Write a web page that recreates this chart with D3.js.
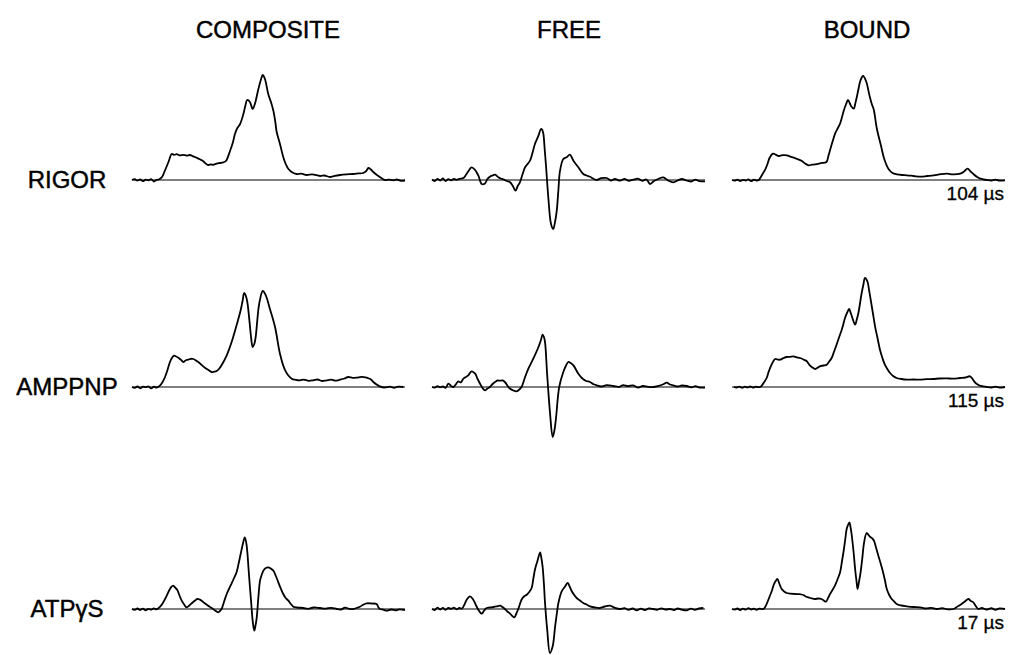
<!DOCTYPE html>
<html>
<head>
<meta charset="utf-8">
<script src="https://cdn.jsdelivr.net/npm/d3@7"></script>
<style>
  html, body { margin: 0; padding: 0; background: #fff; }
  svg { display: block; }
  text { font-family: "Liberation Sans", Arial, Helvetica, sans-serif; fill: #000; stroke: #000; stroke-width: 0.45px; }
</style>
</head>
<body>
<svg id="chart" width="1010" height="655"></svg>
<script>
// ---------------- DATA ----------------
const columns = ["COMPOSITE", "FREE", "BOUND"];
const rows = ["RIGOR", "AMPPNP", "ATPγS"];
const times = ["104 µs", "115 µs", "17 µs"];

// each trace: [field position (0-100), signal amplitude]
const compositeRigor = [[0,0],[1,0.8],[2,-0.6],[3,0.5],[4,-1.2],[5,0.3],[6,-0.4],[7,0.9],[8,-1.5],[9,0.2],[10,0.8],[11,3],[12,9],[13.5,19],[14.5,26],[15.5,25.2],[16.4,25.8],[17.5,24.6],[18.8,25.2],[20,24.4],[21.2,25],[22.4,23.6],[23.6,22.4],[25,20.5],[26,19],[27,16.5],[27.9,15],[29,15.6],[29.7,15.2],[31,16.4],[32.2,17],[33.4,17.6],[34.4,19],[35.9,29],[37,38],[37.7,46],[38.6,52],[39.6,56],[40.8,66],[41.5,74],[42.2,80],[43.2,78],[44.2,71],[45,76],[46.3,91],[47.3,101],[47.9,105],[48.7,101],[49.9,86],[50.9,78],[51.8,69],[52.5,58],[53,48],[54.2,36],[55.4,23],[56.3,16],[57.3,11],[58.8,7.5],[60.3,6],[62,6.4],[64,5],[66,5.6],[68.9,4],[70.5,4.5],[72.5,3],[74.3,4.2],[76.2,5],[78.5,5.6],[81.1,6],[83,6.6],[84.7,7],[85.8,9],[86.6,12],[87.5,10.5],[88.4,8],[89.5,5.5],[90.8,3],[91.8,1.2],[92.7,0],[94,0.4],[95.8,-0.3],[97,0.5],[98.5,-0.8],[100,-0.5]];

const freeRigor = [[0,0.5],[1,-1],[2,1.2],[3,-0.5],[4,1.5],[5,-1],[6,0.8],[7,-0.3],[8,1],[9,0.2],[10,1.2],[11.5,2],[12.4,5],[13.3,8.7],[14.5,12.7],[15.8,10],[17,4.3],[18.2,-4],[19.4,-3.5],[20.3,1],[21.2,3.3],[22.2,4.5],[23.1,5.3],[24.3,2.7],[25.2,1.5],[26.1,0.7],[27.4,-1],[28.6,-2.3],[29.6,-6],[30.6,-10.7],[31.4,-6],[32.2,-2.3],[33.2,6],[34.1,12.7],[35.9,19.3],[36.8,27],[37.7,36],[39,44.3],[39.9,51],[40.4,50],[40.8,46],[41.3,30],[41.8,12.7],[42.6,-17.3],[43.6,-44],[44.4,-49],[45,-43],[45.7,-30.7],[46.3,-10],[46.9,9.3],[48.1,21],[49.3,22.7],[50.5,25.3],[51.8,19.3],[53.6,12.7],[55.4,6],[56.6,4.5],[57.9,3.3],[59,1.5],[60.3,0],[62,1.8],[64,2],[65.5,-0.5],[67,1],[68.9,-0.7],[70.5,1.2],[72,-0.8],[73.7,0.3],[75.5,1.3],[77,-0.8],[78.5,0.5],[79.9,-4],[81.3,-1],[83,1.2],[84.7,2.7],[86.5,-0.5],[88.4,-2.3],[90,-0.5],[91.5,1],[93.3,-0.5],[95,-1.5],[96.5,0.3],[98,-1.2],[100,-1.3]];

const boundRigor = [[0,0],[1,-0.6],[2,0.4],[3,-1],[4,0.2],[5,-0.5],[6,0.6],[7,-1.2],[8,0.3],[9,-0.5],[9.8,0],[10.4,2.3],[11.2,6],[12.2,10.7],[13,16],[13.8,22.3],[15,26.3],[16,25.4],[17.1,24],[18.5,24.8],[20.1,24.7],[21.4,23.4],[22.6,22.3],[24,20.8],[25.6,19],[26.8,16.5],[28.1,14.7],[29.3,15.3],[30.5,15.7],[32.5,16.8],[34.6,18],[35.3,24],[36,30.7],[37,40],[37.9,47.3],[38.8,52],[39.7,57.3],[40.4,64],[41.1,70.7],[41.8,76],[42.5,80],[43.6,74],[44.6,71.3],[45.2,77],[45.8,84],[46.4,92],[47,99],[48,104],[49.1,99],[50.4,84],[51.2,76],[51.9,70.7],[53.1,50.7],[54.6,34],[55.8,20.7],[57.4,10.7],[58.8,7],[60.4,5.7],[62.3,5],[64.1,4.7],[66.5,4],[69,3.3],[71.5,4],[73.9,4.7],[76.5,5.8],[78.8,6.3],[81,5.6],[83.6,6.3],[85,8.5],[86.3,11.3],[87.4,8.5],[88.5,5.7],[89.8,3],[91,1.3],[92.2,0.5],[93.4,0],[95,-0.5],[96.5,0.4],[98,-0.6],[100,-0.3]];

const compositeAmppnp = [[0,0],[1,-0.8],[2,0.5],[3,-1.3],[4,0.4],[5,-0.2],[6,0.7],[7,-1.4],[8,0.3],[9,-0.5],[10.3,1.7],[11.2,5],[12.1,10],[13,17],[13.9,25],[14.6,29],[15.4,31.3],[16.2,30.5],[17,29.3],[18,27],[18.8,25],[19.7,26.8],[20.6,27.3],[21.5,28.2],[22.5,28],[23.4,26.6],[24.3,25],[25.5,22],[26.7,19.3],[28,17],[29.2,15],[30.1,15.3],[31,16],[32,18.5],[32.8,21.7],[34.7,31.7],[36.5,45],[38.3,61.7],[39.8,76.7],[40.5,86],[41.1,94],[42,88.3],[43,66.7],[43.6,50],[44.2,40],[44.8,43],[45.3,50],[46.6,83.3],[47.9,96],[49,91.7],[50.5,78.3],[52.4,60],[54.2,33.3],[56.1,16.7],[58.5,8.3],[60,7.2],[61.5,6.7],[63,7.4],[64.7,6.2],[66.4,6.7],[68,7.5],[69.6,6],[71.3,6.7],[73,7.3],[74.5,6.3],[76.2,7.3],[77.8,8.5],[79.2,10],[80.8,9.2],[82.3,9.3],[84,10.2],[86,9.3],[87.3,8],[88.4,5],[89.6,2.5],[90.8,0.7],[92.5,-0.5],[94.5,0.3],[96,-0.8],[97.5,0.4],[99.4,0]];

const freeAmppnp = [[0,0],[1,-0.6],[2,0.8],[3,-0.3],[4,0.5],[5,-0.8],[6,3.3],[7,1],[7.8,0],[8.7,2.5],[9.6,5.7],[10.5,4.5],[11.5,8.3],[12.4,10],[13.3,11.7],[14.5,15.7],[15.8,13.3],[16.7,8],[17.6,3.3],[18.5,-1],[19.4,-3.3],[20.3,-1.5],[21.2,0],[22.2,3],[23.1,5],[24,6.5],[24.9,6.3],[25.8,6.6],[26.7,5],[27.6,1.5],[28.6,-1.7],[29.8,-3.5],[31,-4.3],[32,-2.5],[32.8,0],[34.1,10],[35.3,18.3],[37.1,28.3],[39,40],[39.9,47],[40.5,52.3],[41,50],[41.4,45],[42.2,11.7],[43.2,-25],[44.2,-50],[44.8,-44],[45.4,-31.7],[46.6,0],[48.1,15],[49.1,21.5],[49.9,25],[50.8,24],[51.8,21.7],[53.6,13.3],[55.4,7.7],[56.5,6],[57.9,5],[59,3],[60.3,1.7],[62,0.5],[64,1.8],[66.4,1],[68.5,0.2],[70,1.8],[71.8,0.8],[73.7,1.7],[75.5,-0.5],[77.2,1],[79,0.3],[81.1,0],[83,1.2],[84.5,2.5],[86,4.3],[87.2,2.5],[88.4,1.7],[90,0.5],[91.5,1.5],[93.3,1],[95,-0.3],[96.5,0.8],[98,-0.5],[100,-0.7]];

const boundAmppnp = [[0.7,0],[1.7,-0.5],[2.7,0.4],[3.7,-0.8],[4.7,0.3],[5.7,-0.4],[6.7,0.5],[7.7,-0.6],[8.7,0.3],[9.5,-0.2],[10.3,0],[10.9,1.3],[11.8,5],[12.7,9],[13.4,15],[14.2,20.7],[15,25],[15.8,28],[16.7,27.5],[17.6,27.3],[18.8,28.8],[20,30],[21.2,30.2],[22.5,30.7],[23.7,29.6],[24.9,29],[26.2,27.5],[27.4,25.7],[28,23.5],[28.6,21.3],[29.5,19.5],[30.4,18],[31.3,19.2],[32.2,20.7],[33.5,21.5],[34.7,22.3],[35.6,25.5],[36.5,29],[37.4,35.5],[38.3,42.3],[39.2,49.5],[40.2,57.3],[40.8,63],[41.4,69],[42.2,74.5],[42.9,78],[43.5,74],[44.1,69],[45.1,62.3],[45.7,67.5],[46.3,74],[47.5,94],[48.1,102],[48.7,109],[49.6,105.7],[50.2,97],[50.8,87.3],[51.6,74],[52.4,60.7],[53.3,49],[54.2,37.3],[55.1,29],[56,22.3],[57,17.5],[57.9,14],[59,11],[60.3,9],[62,8],[64,7.3],[66.5,7.5],[68.9,7.3],[71.3,7.8],[73.7,8],[76,8.5],[78.6,8.7],[81,8.3],[83.5,9],[85.5,9.5],[87.2,10.7],[88.1,8],[89,4.7],[90,2.5],[90.8,1.3],[92,0.6],[93.3,0],[95,-0.5],[96.5,0.3],[98,-0.6],[100,0]];

const compositeAtpgs = [[0,0],[1,-0.8],[2,0.5],[3,-1],[4,0.3],[5,-1.3],[6,0.2],[7,-0.7],[8,0.6],[9,-0.3],[10.3,2.3],[11.2,5.5],[12.1,10],[13,15],[13.7,19],[14.4,22],[15.1,23.3],[15.8,21.5],[16.6,19],[17.4,13.5],[18.2,8.3],[19.1,4.5],[20,1.7],[21,3.5],[21.9,5.7],[23,8.2],[23.9,10],[24.7,9.6],[25.5,8.3],[26.5,6],[27.4,4.3],[28.3,2.5],[29.2,1],[30.4,-1.5],[31.6,-3.3],[32.2,-2],[32.8,0],[33.8,8],[34.7,15],[35.6,20.5],[36.5,25.7],[37.4,31],[38.3,36.7],[39.1,46],[39.8,55],[40.6,65],[41.3,71.7],[41.8,67],[42.2,58.3],[42.7,40],[43.2,21.7],[43.7,5],[44.2,-11.7],[44.8,-21.7],[45.2,-17],[45.7,-8.3],[46.3,12],[46.9,28.3],[47.5,34],[48.1,38.3],[49,41],[49.9,41.7],[50.8,40.5],[51.8,38.3],[52.7,33],[53.6,26.7],[54.5,20.5],[55.4,15],[56.3,11],[57.3,8.3],[58.2,5],[59.1,2.3],[60.5,1.5],[62.8,1],[64.5,0.2],[66.5,1.5],[68.9,1],[71,0.3],[73,1.2],[75,0],[76.5,-0.5],[78,1.3],[79.6,0.2],[81.1,0],[82.3,1],[83.5,2.3],[84.8,4.5],[86,5.7],[87.8,5.5],[89.6,5],[90.2,2],[90.8,0],[92,-0.6],[93.3,-1.7],[95,-0.5],[96.5,-1.3],[98,-0.3],[100,-1]];

const freeAtpgs = [[0,0],[1,-1],[2,1.3],[3,-0.5],[4,1.2],[5,-0.8],[6,1],[7,0.2],[8,1.4],[9,-0.3],[10,1],[11,0.5],[11.9,4.5],[12.7,9.3],[13.9,12.7],[15.1,9.3],[15.9,5],[16.6,1],[17.4,-2.5],[18.2,-4.7],[19.1,-1.5],[20,1],[21.2,1.5],[22.5,2],[23.7,2.6],[24.9,3.3],[25.8,2],[26.7,0],[27.6,-2.5],[28.6,-4.7],[29.4,-7],[30.2,-8.3],[30.9,-4.5],[31.6,0],[32.8,9.3],[33.7,12.5],[34.7,14.3],[35.6,17],[36.5,21],[37.1,30],[37.7,39.3],[38.6,47.7],[39.6,56.7],[40,52],[40.5,42.7],[41,25],[41.4,6],[42.2,-20.7],[43.2,-44],[44.2,-37.3],[45.1,-17.3],[45.7,-5],[46.3,6],[47.5,17.7],[48.6,22],[49.7,26],[50.5,22],[51.2,17.7],[52.1,14],[53,11],[54.2,8.5],[55.4,6],[56.6,4.5],[57.9,2.7],[59.7,1.5],[61.5,1],[63.3,2.5],[65.2,3.3],[67,1.2],[68.9,0],[70.5,0.8],[72,-0.8],[73.5,0.5],[75,-1.3],[76.5,0.3],[78,-1],[79.5,0.6],[81.1,0],[82.5,-0.8],[84,0.7],[85.5,-0.5],[87.2,0],[88.7,-1],[90,0.5],[91.5,-0.7],[93.3,-1.3],[94.8,0.3],[96.3,-0.8],[97.8,0.5],[99.4,1]];

const boundAtpgs = [[0,0],[1,-0.7],[2,0.5],[3,-1],[4,0.4],[5,-0.6],[6,0.8],[7,-0.5],[8,0.3],[9,-0.8],[10,0.3],[11.5,0],[12.1,1.7],[13,7],[13.9,13.3],[14.7,19],[15.4,25],[16,28],[16.6,30],[17.4,25],[18.2,20],[19.1,17.5],[20,16],[21.5,15.3],[23.1,15],[24.6,14.8],[26.1,14],[27,12.5],[28,11.7],[29.2,10.6],[30.4,10],[31.6,10.5],[32.8,10],[33.6,8.5],[34.4,7.3],[35.2,11],[35.9,15],[36.8,19],[37.7,23.3],[38.7,30],[39.6,36.7],[40.3,48],[41,60],[41.5,70],[42,80],[42.5,84],[43,86.7],[43.4,82],[43.8,75],[44.5,58],[45.1,40],[45.6,28],[46,20],[46.5,27],[47.1,36.7],[47.7,50],[48.4,66.7],[49.3,76],[50,74],[50.8,71.7],[51.4,70.5],[52,68.3],[52.8,61],[53.6,53.3],[54.4,46],[55.2,38.3],[56,29],[56.7,20],[57.6,14],[58.5,10],[59.4,7.5],[60.3,5],[62,3.5],[64,2.7],[66.5,2],[68.9,1.7],[71,0.5],[73,1.2],[75,0],[77,0.8],[79,-0.3],[81.1,0],[82.6,2.5],[84.1,5],[85.3,7.5],[86.6,10],[87.5,8],[88.4,6.7],[89.3,3],[90.2,0],[91.5,1],[93.3,-0.5],[95,0.8],[96.5,-0.8],[98,0.6],[100,0]];

const traces = [
  [compositeRigor, freeRigor, boundRigor],
  [compositeAmppnp, freeAmppnp, boundAmppnp],
  [compositeAtpgs, freeAtpgs, boundAtpgs]
];

// ---------------- LAYOUT ----------------
const svg = d3.select("#chart");
const colLeft = [132, 432, 732];
const colWidth = 273;
const rowBase = [180, 387, 609];
const titleX = [268, 569, 867];

const line = d3.line()
  .x(d => d[0]).y(d => d[1])
  .curve(d3.curveCatmullRom.alpha(0.5));

// column titles
svg.selectAll("text.col").data(columns).join("text")
  .attr("class", "col")
  .attr("x", (d, i) => titleX[i])
  .attr("y", 38)
  .attr("text-anchor", "middle")
  .style("font-size", "24px")
  .text(d => d);

// row labels
svg.selectAll("text.row").data(rows).join("text")
  .attr("class", "row")
  .attr("x", 67)
  .attr("y", (d, i) => rowBase[i] + 8)
  .attr("text-anchor", "middle")
  .style("font-size", "24px")
  .text(d => d);

// time labels
svg.selectAll("text.time").data(times).join("text")
  .attr("class", "time")
  .attr("x", 1004)
  .attr("y", (d, i) => rowBase[i] + 20)
  .attr("text-anchor", "end")
  .style("font-size", "19px")
  .style("stroke-width", "0.3px")
  .text(d => d);

rows.forEach((r, ri) => {
  columns.forEach((c, ci) => {
    const x = d3.scaleLinear().domain([0, 100]).range([colLeft[ci], colLeft[ci] + colWidth]);
    const y = d3.scaleLinear().domain([0, 100]).range([rowBase[ri], rowBase[ri] - 100]);
    const g = svg.append("g");
    // baseline (zero axis)
    g.append("line")
      .attr("x1", x(0)).attr("x2", x(100))
      .attr("y1", y(0)).attr("y2", y(0))
      .attr("stroke", "#000").attr("stroke-width", 1);
    const pts = traces[ri][ci].map(d => [x(d[0]), y(d[1])]);
    g.append("path")
      .attr("d", line(pts))
      .attr("fill", "none")
      .attr("stroke", "#000")
      .attr("stroke-width", 1.8)
      .attr("stroke-linejoin", "round");
  });
});
</script>
</body>
</html>
